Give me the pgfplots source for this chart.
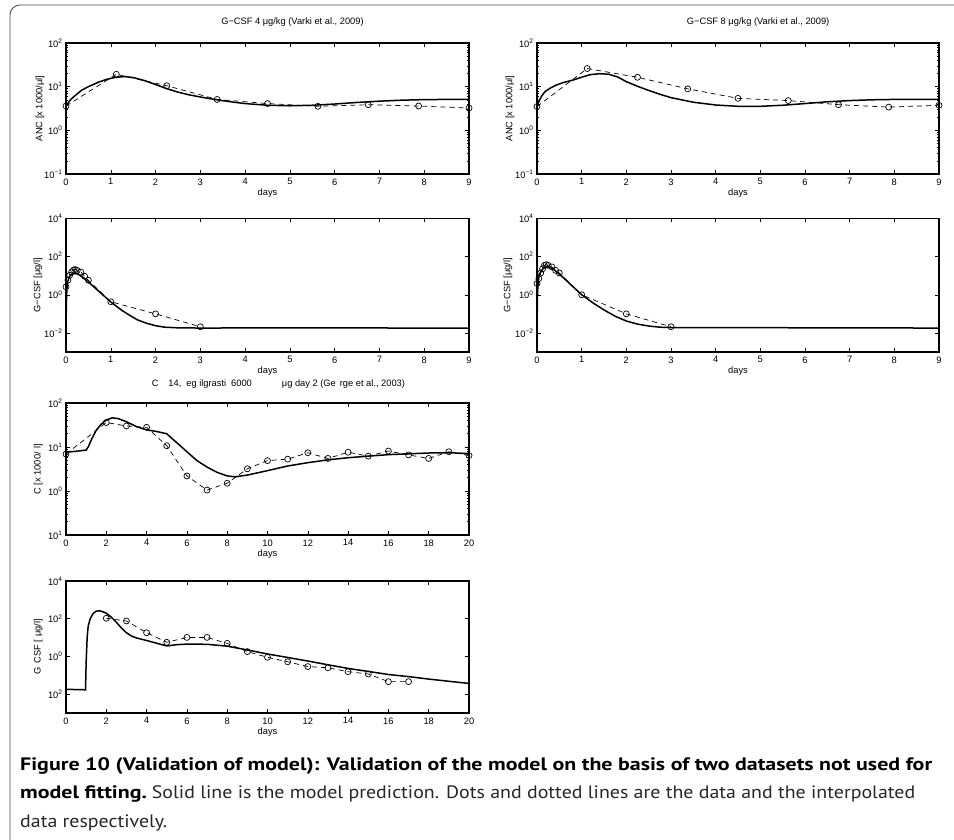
\documentclass[border=0pt]{standalone}
\usepackage{pgfplots}
\pgfplotsset{compat=1.18}
\usepackage{fontspec}
\setmainfont{Liberation Sans}
\newfontfamily\capfont{PT Sans}
\usepackage{graphicx}
\newcommand\ax{\fontsize{9.3}{10}\selectfont}
\newcommand\tp[1]{10\textsuperscript{#1}}
\newcommand\capsz{\fontsize{18}{20}\selectfont}
\pgfplotsset{
  panelbase/.style={
    scale only axis,
    tick align=inside,
    major tick length=4pt, minor tick length=2pt,
    every tick/.style={black, line width=0.5pt},
    axis line style={line width=1.1pt},
    tick label style={font=\ax},
    label style={font=\ax},
    title style={font=\ax, anchor=center, yshift=14.7pt},
    /pgf/number format/assume math mode=true,
    xlabel={days},
    xlabel style={at={(axis description cs:0.5,0)}, anchor=center, yshift=-19.5pt},
    xticklabel style={yshift=-1pt},
  },
  ninedays/.style={xmin=0, xmax=9, xtick={0,1,...,9}},
  twentydays/.style={xmin=0, xmax=20, xtick={0,2,...,20}},
  ancrange/.style={ymin=0.1, ymax=100, ytick={0.1,1,10,100}},
  gcsfrange/.style={ymin=0.001, ymax=10000, ytick={0.01,1,100,10000}, yminorticks=false},
  modelline/.style={black, line width=1.5pt, no markers},
  datline/.style={black, line width=0.7pt, dash pattern=on 5pt off 4pt, mark=o, mark size=3pt, mark options={solid, line width=0.7pt}},
}
\newlength\capw
\newlength\regw
\newlength\boldw
\begin{document}
\settowidth\capw{\capfont\capsz\bfseries Figure 10 (Validation of model): Validation of the model on the basis of two datasets not used for}%
\settowidth\regw{\capfont\capsz Solid line is the model prediction. Dots and dotted lines are the data and the interpolated}%
\settowidth\boldw{\capfont\capsz\bfseries model fitting.}%
\pgfmathsetmacro\capsx{912/(\capw/1pt)}%
\pgfmathsetmacro\capsr{(895-\capsx*(\boldw/1pt)-5)/(\regw/1pt)}%
\begin{tikzpicture}[x=1pt,y=1pt]
\useasboundingbox (0,0) rectangle (954,840);
\begin{scope}
\clip (0,0) rectangle (954,840);
\draw[black!70, line width=0.9pt, rounded corners=10pt] (10,-10) -- (10,835) -- (970,835);
\end{scope}

% ---------- Panel 1
\begin{semilogyaxis}[panelbase, ninedays, ancrange, at={(66pt,666pt)}, anchor=south west, width=403pt, height=131pt,
  yticklabels={\tp{−1},\tp{0},\tp{1},\tp{2}},
  title={G−CSF 4 μg/kg (Varki et al., 2009)}, title style={at={(axis description cs:0.562,1)}},
  ylabel={ANC [x 1000/μl]}, ylabel style={at={(axis description cs:-0.0645,0.5)}, anchor=center}]
\addplot[modelline] coordinates {(0,3.5) (0.05,4.3) (0.1,5.0) (0.2,6.2) (0.35,8.3) (0.5,10.0) (0.72,12.6) (0.9,14.6) (1.1,16.3) (1.3,17.0) (1.5,16.2) (1.75,13.8) (2.0,11.2) (2.25,9.0) (2.5,7.5) (2.75,6.5) (3.0,5.8) (3.37,5.0) (3.75,4.4) (4.0,4.1) (4.5,3.75) (5.0,3.65) (5.5,3.75) (6.0,4.0) (6.5,4.35) (7.0,4.65) (7.5,4.9) (8.0,5.05) (8.5,5.1) (9.0,5.1)};
\addplot[datline] coordinates {(0,3.6) (1.125,19.2) (2.25,10.5) (3.375,5.1) (4.5,4.1) (5.625,3.55) (6.75,3.86) (7.875,3.6) (9,3.24)};
\end{semilogyaxis}

% ---------- Panel 2
\begin{semilogyaxis}[panelbase, ninedays, ancrange, at={(537pt,666pt)}, anchor=south west, width=402pt, height=131pt,
  yticklabels={\tp{−1},\tp{0},\tp{1},\tp{2}},
  title={G−CSF 8 μg/kg (Varki et al., 2009)}, title style={at={(axis description cs:0.55,1)}},
  ylabel={ANC [x 1000/μl]}, ylabel style={at={(axis description cs:-0.067,0.5)}, anchor=center}]
\addplot[modelline] coordinates {(0,3.5) (0.05,4.8) (0.1,6.0) (0.18,7.7) (0.3,9.3) (0.44,11.0) (0.6,12.5) (0.81,14.2) (1.0,16.5) (1.19,18.8) (1.4,19.8) (1.6,19.3) (1.8,16.8) (2.0,13.0) (2.25,10.2) (2.5,8.2) (2.75,6.7) (3.0,5.6) (3.5,4.4) (4.0,3.8) (4.5,3.55) (5.0,3.55) (5.5,3.75) (6.0,4.1) (6.5,4.5) (7.0,4.8) (7.5,5.0) (8.0,5.1) (9.0,5.1)};
\addplot[datline] coordinates {(0,3.5) (1.125,26) (2.25,16.4) (3.375,8.9) (4.5,5.4) (5.625,4.8) (6.75,3.87) (7.875,3.4) (9,3.75)};
\end{semilogyaxis}

% ---------- Panel 3
\begin{semilogyaxis}[panelbase, ninedays, gcsfrange, at={(66pt,488pt)}, anchor=south west, width=403pt, height=133.5pt,
  yticklabels={\tp{−2},\tp{0},\tp{2},\tp{4}},
  ylabel={G−CSF [μg/l]}, ylabel style={at={(axis description cs:-0.0695,0.5)}, anchor=center}]
\addplot[modelline] coordinates {(0,0.015) (0.01,0.5) (0.02,2) (0.04,5) (0.07,8.5) (0.1,10.5) (0.15,12.5) (0.2,13) (0.25,12.3) (0.3,11) (0.4,7.5) (0.5,4.6) (0.6,2.9) (0.75,1.4) (1.0,0.42) (1.25,0.15) (1.5,0.065) (1.6,0.048) (1.8,0.032) (2.0,0.024) (2.2,0.02) (2.5,0.0185) (3,0.018) (5,0.0185) (9,0.0178)};
\addplot[datline] coordinates {(0,2.6) (0.042,5.8) (0.083,10.5) (0.125,15.5) (0.167,20) (0.208,21) (0.25,19) (0.333,15.5) (0.417,9.3) (0.5,5.8) (1,0.43) (2,0.1) (3,0.021)};
\end{semilogyaxis}

% ---------- Panel 4
\begin{semilogyaxis}[panelbase, ninedays, gcsfrange, at={(537pt,488pt)}, anchor=south west, width=402pt, height=133.5pt,
  yticklabels={\tp{−2},\tp{0},\tp{2},\tp{4}},
  ylabel={G−CSF [μg/l]}, ylabel style={at={(axis description cs:-0.072,0.5)}, anchor=center}]
\addplot[modelline] coordinates {(0,0.015) (0.01,0.8) (0.02,3) (0.04,8) (0.07,14) (0.1,19) (0.15,25) (0.2,28) (0.25,29.5) (0.3,27) (0.4,19) (0.5,12) (0.6,7.5) (0.75,3.5) (1.0,1.0) (1.25,0.38) (1.5,0.16) (1.75,0.075) (2.0,0.042) (2.25,0.029) (2.5,0.023) (2.75,0.02) (3,0.019) (4,0.019) (9,0.018)};
\addplot[datline] coordinates {(0,3.9) (0.042,7) (0.083,13.8) (0.125,23) (0.167,35) (0.208,38) (0.25,35) (0.333,29) (0.417,19) (0.5,13.8) (1,1.0) (2,0.1) (3,0.021)};
\end{semilogyaxis}

% ---------- Panel 5
\begin{semilogyaxis}[panelbase, twentydays, ancrange, at={(66pt,305pt)}, anchor=south west, width=403pt, height=132pt,
  yticklabels={\tp{1},\tp{0},\tp{1},\tp{2}},
  title={C\hspace{10pt}14,\hspace{5pt}eg ilgrasti\hspace{5pt}6000\hspace{30pt}μg day 2 (Ge\hspace{4pt}rge et al., 2003)},
  title style={at={(axis description cs:0.527,1)}, yshift=-1.7pt},
  ylabel={C [x 1000/\hspace{4pt}l]}, ylabel style={at={(axis description cs:-0.069,0.5)}, anchor=center}]
\addplot[modelline] coordinates {(0,7.6) (0.5,8.0) (1.0,8.5) (1.1,10) (1.3,16) (1.5,24) (1.75,33) (2.0,41) (2.3,46) (2.6,44) (3.0,37.5) (3.5,29) (4.0,24.5) (4.5,22.5) (5.0,20) (5.2,16.5) (5.5,12.5) (6.0,7.8) (6.5,4.9) (7.0,3.5) (7.5,2.65) (8.0,2.2) (8.4,2.1) (9.0,2.3) (10,2.9) (11,3.7) (12,4.4) (13,5.1) (14,5.7) (15,6.2) (16,6.7) (17,7.0) (18,7.3) (19,7.4) (20,7.1)};
\addplot[datline] coordinates {(0,6.9) (2,36) (3,30) (4,28) (5,10.7) (6,2.2) (7,1.05) (8,1.5) (9,3.2) (10,4.9) (11,5.3) (12,7.4) (13,5.5) (14,7.6) (15,6.2) (16,8.1) (17,6.6) (18,5.5) (19,7.8) (20,6.4)};
\end{semilogyaxis}

% ---------- Panel 6
\begin{semilogyaxis}[panelbase, twentydays, gcsfrange, at={(66pt,127pt)}, anchor=south west, width=403pt, height=132pt,
  yticklabels={\tp{2},\tp{0},\tp{2},\tp{4}},
  ylabel={G\hspace{4pt}CSF [\hspace{3pt}μg/l]}, ylabel style={at={(axis description cs:-0.069,0.5)}, anchor=center}]
\addplot[modelline] coordinates {(0,0.018) (0.97,0.017) (1.0,0.5) (1.05,10) (1.1,40) (1.2,100) (1.35,190) (1.5,250) (1.65,265) (1.8,240) (2.0,195) (2.25,120) (2.5,65) (2.75,32) (3.0,18) (3.25,12) (3.5,9.5) (4.0,7) (4.5,5) (5.0,3.6) (5.5,4.2) (6.0,4.5) (7.0,4.4) (8.0,3.5) (9.0,2.2) (10,1.35) (11,0.88) (12,0.57) (13,0.36) (14,0.23) (15,0.16) (16,0.11) (17,0.085) (18,0.063) (19,0.048) (20,0.037)};
\addplot[datline] coordinates {(2,105) (3,76) (4,18) (5,5.6) (6,10.2) (7,10.2) (8,4.9) (9,1.8) (10,0.9) (11,0.52) (12,0.29) (13,0.25) (14,0.155) (15,0.117) (16,0.046) (17,0.046)};
\end{semilogyaxis}

% ---------- Caption
\node[anchor=base west, inner sep=0pt] at (20,69) {\scalebox{\capsx}[1]{\capfont\capsz\bfseries Figure 10 (Validation of model): Validation of the model on the basis of two datasets not used for}};
\node[anchor=base west, inner sep=0pt] at (20,41) {\scalebox{\capsx}[1]{\capfont\capsz\bfseries model fitting.}\hspace{5pt}\textcolor{black!85}{\scalebox{\capsr}[1]{\capfont\capsz Solid line is the model prediction. Dots and dotted lines are the data and the interpolated}}};
\node[anchor=base west, inner sep=0pt, text=black!85] at (20,12.5) {\scalebox{\capsr}[1]{\capfont\capsz data respectively.}};
\end{tikzpicture}
\end{document}
